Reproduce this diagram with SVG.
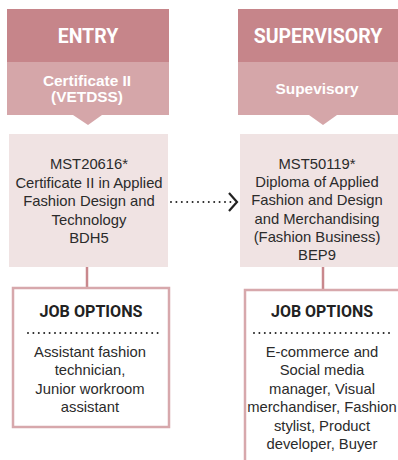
<svg xmlns="http://www.w3.org/2000/svg" width="398" height="460" viewBox="0 0 398 460">
<defs>
<style>
.hdr{fill:#C6858A}
.sub{fill:#D5A6A9}
.box{fill:#F0E3E3}
.job{fill:#fff;stroke:#D7A8AC;stroke-width:2.5}
.stem{stroke:#C9888D;stroke-width:2.5}
.ht{font-family:Roboto,"Liberation Sans",sans-serif;font-weight:bold;font-size:19.5px;fill:#fff;text-anchor:middle}
.st{font-family:"Liberation Sans",Arial,sans-serif;font-weight:bold;font-size:15.4px;fill:#fff;text-anchor:middle}
.bt{font-family:"Liberation Sans",Arial,sans-serif;font-size:14.8px;fill:#2b2b2b;text-anchor:middle}
.jt{font-family:Roboto,"Liberation Sans",sans-serif;font-weight:bold;font-size:17px;fill:#222;text-anchor:middle}
.dots{stroke:#222;stroke-width:2;stroke-linecap:round;stroke-dasharray:0 5.4;fill:none}
</style>
</defs>
<g id="entry">
<rect class="hdr" x="7" y="9" width="162" height="53"/>
<rect class="sub" x="7" y="62" width="162" height="53"/>
<polygon class="sub" points="73,115 102,115 88,125"/>
<text class="ht" x="88" y="43">ENTRY</text>
<text class="st" x="87" y="86">Certificate II</text>
<text class="st" x="87" y="102">(VETDSS)</text>
</g>
<g id="supervisory">
<rect class="hdr" x="238" y="9" width="160" height="53"/>
<rect class="sub" x="238" y="62" width="160" height="53"/>
<polygon class="sub" points="309,115 337,115 323,125"/>
<text class="ht" x="318" y="43">SUPERVISORY</text>
<text class="st" x="317" y="94">Supevisory</text>
</g>
<g id="connectors">
<line class="stem" x1="87" y1="267" x2="87" y2="288"/>
<line class="stem" x1="323" y1="267" x2="323" y2="290"/>
<line class="dots" x1="171" y1="202" x2="232" y2="202"/>
<polyline points="229,193 237,202 229,211" fill="none" stroke="#222" stroke-width="2.2"/>
</g>
<g id="cert2">
<rect class="box" x="9" y="134" width="159" height="133"/>
<text class="bt" x="89" y="169">MST20616*</text>
<text class="bt" x="89" y="188">Certificate II in Applied</text>
<text class="bt" x="89" y="206">Fashion Design and</text>
<text class="bt" x="89" y="225">Technology</text>
<text class="bt" x="89" y="243">BDH5</text>
</g>
<g id="diploma">
<rect class="box" x="240" y="134" width="158" height="133"/>
<text class="bt" x="317" y="169">MST50119*</text>
<text class="bt" x="317" y="187">Diploma of Applied</text>
<text class="bt" x="317" y="205">Fashion and Design</text>
<text class="bt" x="317" y="224">and Merchandising</text>
<text class="bt" x="317" y="242">(Fashion Business)</text>
<text class="bt" x="317" y="260">BEP9</text>
</g>
<g id="jobs-entry">
<rect class="job" x="13" y="288" width="156" height="139"/>
<text class="jt" x="91" y="317" textLength="103" lengthAdjust="spacingAndGlyphs">JOB OPTIONS</text>
<line class="dots" x1="28" y1="333" x2="161" y2="333"/>
<text class="bt" x="90" y="357">Assistant fashion</text>
<text class="bt" x="90" y="375">technician,</text>
<text class="bt" x="90" y="394">Junior workroom</text>
<text class="bt" x="90" y="412">assistant</text>
</g>
<g id="jobs-supervisory">
<rect class="job" x="245" y="290" width="160" height="180"/>
<text class="jt" x="322" y="317" textLength="102" lengthAdjust="spacingAndGlyphs">JOB OPTIONS</text>
<line class="dots" x1="254" y1="333" x2="392" y2="333"/>
<text class="bt" x="322" y="357">E-commerce and</text>
<text class="bt" x="322" y="375">Social media</text>
<text class="bt" x="322" y="394">manager, Visual</text>
<text class="bt" x="322" y="412">merchandiser, Fashion</text>
<text class="bt" x="322" y="431">stylist, Product</text>
<text class="bt" x="322" y="449">developer, Buyer</text>
</g>
</svg>
